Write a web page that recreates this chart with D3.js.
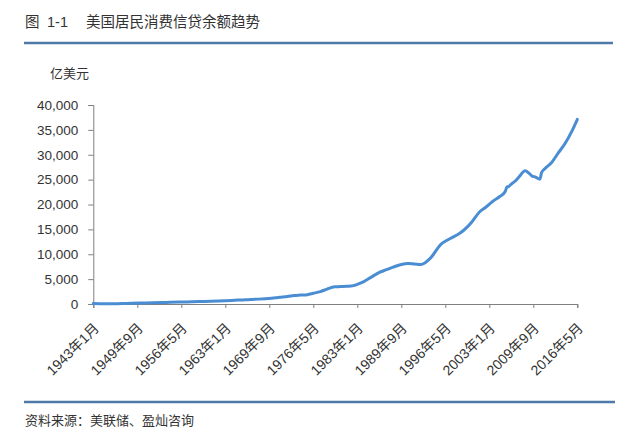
<!DOCTYPE html>
<html>
<head>
<meta charset="utf-8">
<script src="https://cdn.jsdelivr.net/npm/d3@7"></script>
<style>
  html, body { margin: 0; padding: 0; background: #ffffff; }
  svg { display: block; }
  text { font-family: "Liberation Sans", Arial, "Noto Sans CJK SC", sans-serif; }
</style>
</head>
<body>
<svg id="chart" width="640" height="447"></svg>
<script>
// ---- data ----
const titleFig = "图";
const titleNum = "1-1";
const titleMain = "美国居民消费信贷余额趋势";
const unitLabel = "亿美元";
const sourceText = "资料来源：美联储、盈灿咨询";

const months = [
  "1943-01","1944-01","1946-01","1948-01","1950-01","1952-01","1954-01","1956-01",
  "1958-01","1960-01","1962-01","1964-01","1966-01","1968-01","1970-01","1971-04",
  "1972-06","1973-06","1974-06","1975-06","1976-05","1977-06","1978-06","1979-08",
  "1980-06","1981-06","1982-06","1983-01","1984-01","1985-01","1986-06","1987-06",
  "1988-06","1989-09","1990-09","1991-09","1992-09","1993-03","1993-10","1994-07",
  "1995-01","1995-09","1996-05","1997-06","1998-06","1999-10","2000-06","2001-08",
  "2002-06","2003-08","2004-08","2005-06","2005-09","2005-12","2006-06","2007-01",
  "2007-09","2008-06","2009-01","2009-06","2010-01","2010-09","2010-12","2011-06",
  "2012-06","2013-06","2014-07","2015-06","2016-05"
];
const credit = [
  80, 50, 60, 120, 190, 230, 310, 390,
  450, 520, 580, 700, 870, 980, 1170, 1350,
  1500, 1720, 1800, 1880, 2150, 2500, 3000, 3450,
  3500, 3550, 3700, 3950, 4500, 5300, 6400, 6900,
  7400, 7950, 8150, 8050, 7950, 8200, 8800, 9900,
  10900, 12000, 12600, 13400, 14100, 15600, 16600, 18600,
  19400, 20700, 21600, 22600, 23500, 23600, 24200, 24800,
  25800, 26800, 26300, 25800, 25500, 25100, 26400, 27200,
  28400, 30300, 32300, 34500, 37100
];
const xTickLabels = ["1943年1月","1949年9月","1956年5月","1963年1月","1969年9月","1976年5月",
                     "1983年1月","1989年9月","1996年5月","2003年1月","2009年9月","2016年5月"];
const yTicks = [0, 5000, 10000, 15000, 20000, 25000, 30000, 35000, 40000];

// ---- helpers ----
const monthIndex = s => { const [y, m] = s.split("-").map(Number); return (y - 1943) * 12 + (m - 1); };
const labelIndex = s => { const m = s.match(/(\d+)年(\d+)月/); return (+m[1] - 1943) * 12 + (+m[2] - 1); };

const svg = d3.select("#chart");
svg.append("rect").attr("width", 640).attr("height", 447).attr("fill", "#ffffff");

// title
svg.append("text").attr("x", 25).attr("y", 27).attr("font-size", 14.5).attr("fill", "#333")
  .text(titleFig);
svg.append("text").attr("x", 47).attr("y", 27).attr("font-size", 14.5).attr("fill", "#333")
  .text(titleNum);
svg.append("text").attr("x", 86).attr("y", 27).attr("font-size", 14.5).attr("fill", "#333")
  .text(titleMain);
svg.append("line").attr("x1", 24).attr("x2", 613).attr("y1", 43).attr("y2", 43)
  .attr("stroke", "#4d7aa6").attr("stroke-width", 2.5);

// unit label
svg.append("text").attr("x", 50).attr("y", 78).attr("font-size", 13).attr("fill", "#333")
  .text(unitLabel);

// scales
const x0 = 93.3, x1 = 577.3, yTop = 105, yBot = 304;
const x = d3.scaleLinear().domain([0, labelIndex(xTickLabels[xTickLabels.length - 1])]).range([x0, x1]);
const y = d3.scaleLinear().domain([0, 40000]).range([yBot, yTop]);

// y axis
const yAxis = d3.axisLeft(y).tickValues(yTicks).tickSize(5).tickPadding(10)
  .tickFormat(d3.format(","));
const gy = svg.append("g").attr("transform", `translate(${x0},0)`).call(yAxis);
gy.select(".domain").attr("stroke", "#7f7f7f");
gy.selectAll(".tick line").attr("stroke", "#7f7f7f");
gy.selectAll("text").attr("font-size", 13.5).attr("fill", "#333")
  .attr("font-family", '"Liberation Sans", Arial, sans-serif');

// x axis
const xAxis = d3.axisBottom(x).tickValues(xTickLabels.map(labelIndex)).tickSize(4)
  .tickFormat((d, i) => xTickLabels[i]);
const gx = svg.append("g").attr("transform", `translate(0,${yBot})`).call(xAxis);
gx.select(".domain").attr("stroke", "#7f7f7f");
gx.selectAll(".tick line").attr("stroke", "#7f7f7f");
gx.selectAll("text")
  .attr("font-size", 14).attr("fill", "#333")
  .attr("text-anchor", "end")
  .attr("dy", null)
  .attr("y", 0)
  .attr("transform", "translate(6,25) rotate(-45)");

// line
const pts = months.map((m, i) => ({ i: monthIndex(m), v: credit[i] }));
const line = d3.line().x(d => x(d.i)).y(d => y(d.v)).curve(d3.curveMonotoneX);
svg.append("path").datum(pts).attr("d", line)
  .attr("fill", "none").attr("stroke", "#4a8dd3").attr("stroke-width", 3)
  .attr("stroke-linejoin", "round").attr("stroke-linecap", "round");

// bottom rule and source
svg.append("line").attr("x1", 24).attr("x2", 615).attr("y1", 402).attr("y2", 402)
  .attr("stroke", "#4d7aa6").attr("stroke-width", 2.5);
svg.append("text").attr("x", 25).attr("y", 425).attr("font-size", 13).attr("fill", "#333")
  .text(sourceText);
</script>
</body>
</html>
